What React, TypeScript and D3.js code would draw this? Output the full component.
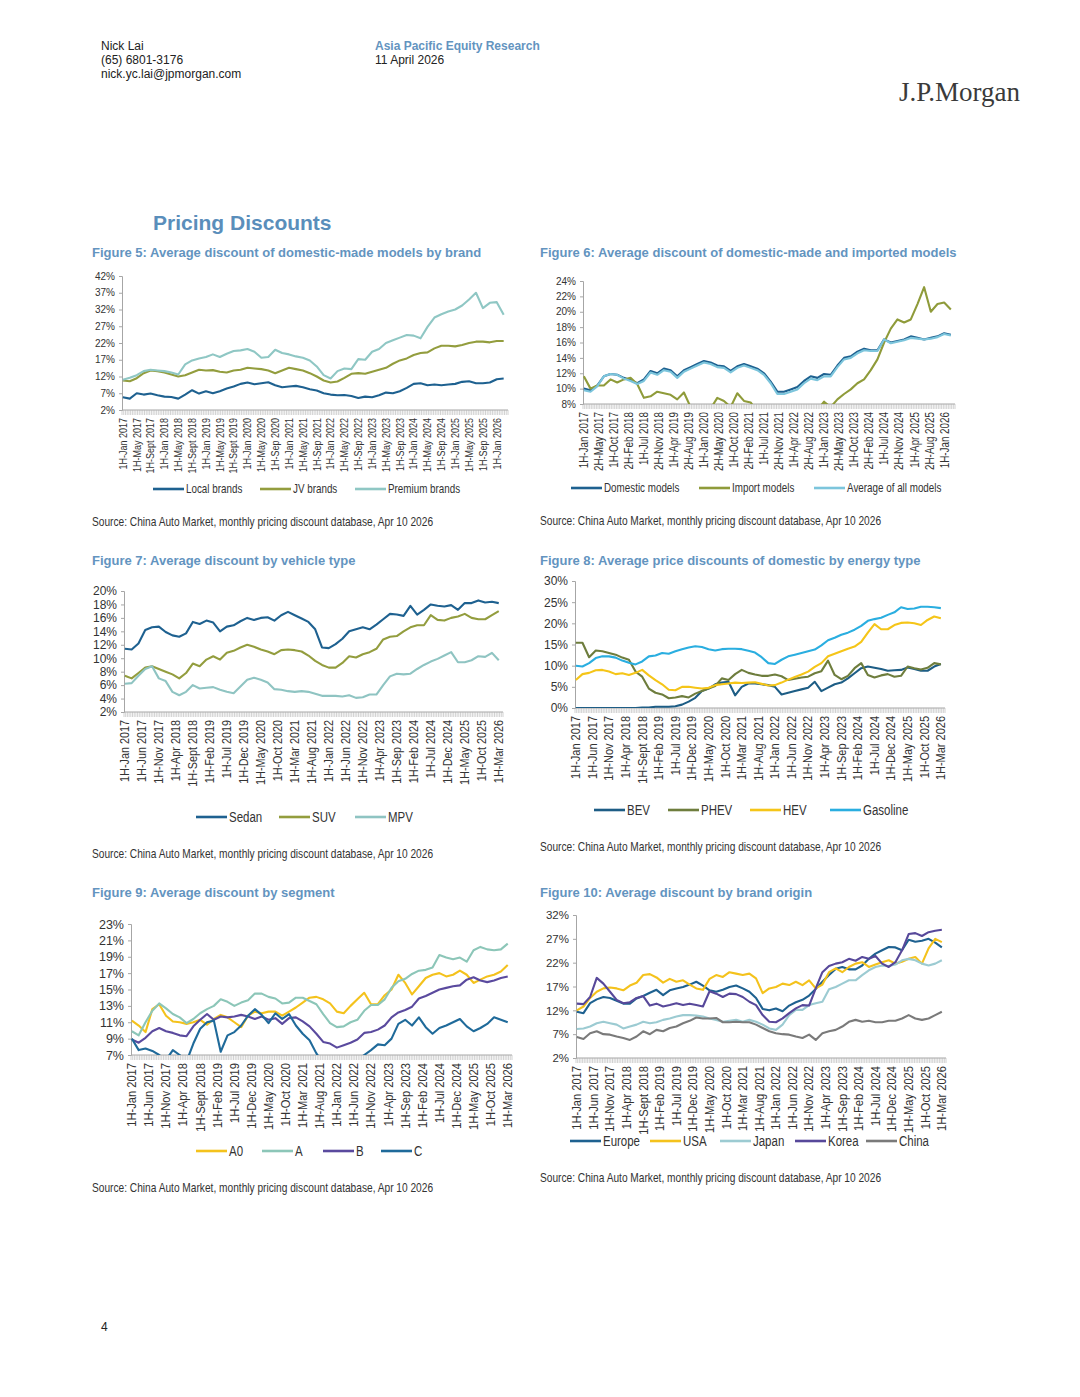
import { useEffect, useRef } from "react";
import * as d3 from "d3";

// Half-monthly category axis: 1H-Jan 2017 ... 1H-Apr 2026
const PERIOD_COUNT = 223;
// series values every second month (= 4 half-month periods)
const READ_STEP = 4;

const SANS = "'Liberation Sans',Arial,sans-serif";
// no narrow face installed, so Arial Narrow is faked by squeezing Liberation Sans
const NARROW_SCALE = 0.82;
const TITLE_BLUE = "#6394bf";

const fig5Labels = [
  "1H-Jan 2017", "1H-May 2017", "1H-Sept 2017", "1H-Jan 2018", "1H-May 2018", "1H-Sept 2018",
  "1H-Jan 2019", "1H-May 2019", "1H-Sept 2019", "1H-Jan 2020", "1H-May 2020", "1H-Sep 2020",
  "1H-Jan 2021", "1H-May 2021", "1H-Sep 2021", "1H-Jan 2022", "1H-May 2022", "1H-Sep 2022",
  "1H-Jan 2023", "1H-May 2023", "1H-Sep 2023", "1H-Jan 2024", "1H-May 2024", "1H-Sep 2024",
  "1H-Jan 2025", "1H-May 2025", "1H-Sep 2025", "1H-Jan 2026",
];
const fig6Labels = [
  "1H-Jan 2017", "2H-May 2017", "1H-Oct 2017", "2H-Feb 2018", "1H-Jul 2018", "2H-Nov 2018",
  "1H-Apr 2019", "2H-Aug 2019", "1H-Jan 2020", "2H-May 2020", "1H-Oct 2020", "2H-Feb 2021",
  "1H-Jul 2021", "2H-Nov 2021", "1H-Apr 2022", "2H-Aug 2022", "1H-Jan 2023", "2H-May 2023",
  "1H-Oct 2023", "2H-Feb 2024", "1H-Jul 2024", "2H-Nov 2024", "1H-Apr 2025", "2H-Aug 2025",
  "1H-Jan 2026",
];
const fig7Labels = [
  "1H-Jan 2017", "1H-Jun 2017", "1H-Nov 2017", "1H-Apr 2018", "1H-Sept 2018", "1H-Feb 2019",
  "1H-Jul 2019", "1H-Dec 2019", "1H-May 2020", "1H-Oct 2020", "1H-Mar 2021", "1H-Aug 2021",
  "1H-Jan 2022", "1H-Jun 2022", "1H-Nov 2022", "1H-Apr 2023", "1H-Sep 2023", "1H-Feb 2024",
  "1H-Jul 2024", "1H-Dec 2024", "1H-May 2025", "1H-Oct 2025", "1H-Mar 2026",
];

// Figure 5
const localBrands = [5.8, 5.4, 7.0, 6.6, 6.9, 6.4, 6.0, 5.9, 5.4, 6.6, 7.9, 6.9, 7.6, 7.0, 7.6, 8.4, 9.0, 9.8, 10.2, 9.7, 10.0, 10.3, 9.4, 8.8, 9.0, 9.2, 8.8, 8.2, 7.8, 7.0, 6.6, 6.4, 6.5, 6.2, 5.6, 6.0, 5.8, 6.4, 7.2, 7.0, 7.6, 8.6, 9.8, 10.0, 9.4, 9.6, 9.4, 9.6, 9.8, 10.4, 10.6, 10.0, 10.0, 10.2, 11.2, 11.4];
const jvBrands = [10.8, 10.6, 11.5, 13.0, 13.8, 13.6, 13.2, 12.6, 12.0, 12.4, 13.2, 14.0, 13.8, 13.9, 13.4, 13.2, 13.8, 14.0, 14.6, 14.4, 14.2, 13.8, 13.0, 13.8, 14.6, 14.2, 13.8, 13.0, 12.0, 10.8, 10.2, 10.5, 11.6, 12.8, 13.0, 12.8, 13.4, 14.0, 14.6, 15.8, 16.8, 17.4, 18.4, 19.0, 19.2, 20.4, 21.2, 21.2, 21.0, 21.4, 22.0, 22.4, 22.4, 22.2, 22.6, 22.6];
const premiumBrands = [11.0, 11.6, 12.4, 13.6, 14.0, 13.8, 13.6, 13.2, 12.6, 15.6, 16.8, 17.4, 17.8, 18.6, 17.8, 18.8, 19.6, 19.8, 20.2, 19.4, 17.6, 17.8, 20.0, 19.0, 18.6, 18.0, 17.6, 16.8, 15.0, 12.4, 11.4, 13.6, 14.4, 14.2, 17.2, 17.0, 19.4, 20.2, 22.0, 22.8, 23.6, 24.4, 24.2, 23.4, 26.8, 29.6, 30.6, 31.4, 32.0, 33.2, 35.0, 37.0, 32.4, 34.0, 34.2, 30.4];

// Figure 6
const domesticModels = [10.0, 9.8, 10.4, 11.6, 11.9, 11.8, 11.4, 11.1, 10.7, 11.2, 12.3, 12.0, 12.6, 12.4, 11.6, 12.4, 12.8, 13.2, 13.6, 13.4, 13.0, 12.9, 12.3, 12.9, 13.2, 12.9, 12.6, 12.0, 10.9, 9.6, 9.6, 9.9, 10.2, 11.0, 11.6, 11.4, 11.9, 11.8, 13.0, 14.0, 14.2, 14.8, 15.2, 15.0, 15.0, 16.4, 16.0, 16.2, 16.4, 16.8, 16.6, 16.4, 16.6, 16.8, 17.2, 17.0];
const importModels = [11.6, 10.0, 10.4, 10.4, 11.2, 10.8, 11.2, 11.4, 10.6, 8.8, 9.0, 9.6, 9.4, 9.2, 8.6, 9.5, 7.6, 7.2, 7.0, 7.4, 8.8, 8.4, 7.6, 9.4, 8.4, 8.2, 7.0, 6.5, 6.0, 6.0, 6.0, 6.0, 6.0, 6.0, 6.0, 7.2, 8.3, 7.6, 8.6, 9.3, 9.9, 10.7, 11.2, 12.4, 13.8, 16.0, 17.8, 19.0, 18.6, 19.0, 21.0, 23.2, 20.0, 21.0, 21.2, 20.3];
const allModels = [9.8, 9.6, 10.3, 11.6, 11.9, 11.8, 11.3, 11.0, 10.6, 11.0, 12.1, 11.8, 12.4, 12.2, 11.4, 12.2, 12.6, 13.0, 13.4, 13.2, 12.8, 12.7, 12.1, 12.7, 13.0, 12.7, 12.4, 11.8, 10.7, 9.3, 9.3, 9.6, 9.9, 10.7, 11.3, 11.1, 11.6, 11.6, 12.8, 13.8, 14.0, 14.6, 15.0, 14.9, 14.9, 16.4, 15.9, 16.1, 16.3, 16.6, 16.5, 16.4, 16.5, 16.7, 17.1, 16.9];

// Figure 7
const sedan = [11.4, 11.3, 12.2, 14.2, 14.6, 14.7, 13.9, 13.4, 13.2, 13.7, 15.4, 15.1, 15.6, 15.3, 14.0, 14.7, 14.9, 15.5, 16.0, 15.7, 16.0, 16.1, 15.6, 16.4, 16.9, 16.4, 15.9, 15.4, 14.3, 11.6, 11.5, 12.1, 12.9, 14.0, 14.3, 14.6, 14.3, 15.0, 15.8, 16.6, 16.5, 16.3, 17.8, 16.5, 17.2, 18.0, 17.8, 17.7, 17.9, 17.2, 18.2, 18.2, 18.6, 18.3, 18.4, 18.2];
const suv = [7.4, 7.0, 7.8, 8.6, 8.8, 8.4, 8.0, 7.6, 7.0, 7.8, 9.2, 8.8, 9.8, 10.3, 9.8, 10.8, 11.1, 11.6, 12.0, 11.7, 11.3, 11.0, 10.6, 11.2, 11.3, 11.2, 11.0, 10.4, 9.6, 9.0, 8.6, 8.6, 9.3, 10.3, 10.1, 10.6, 10.9, 11.4, 12.8, 13.2, 13.3, 14.0, 14.6, 14.9, 14.9, 16.4, 15.7, 15.6, 16.0, 16.2, 16.6, 16.0, 15.8, 15.8, 16.4, 17.0];
const mpv = [6.2, 6.3, 7.4, 8.4, 8.8, 7.0, 6.6, 5.0, 4.5, 5.0, 6.0, 5.5, 5.6, 5.7, 5.3, 5.0, 4.8, 5.8, 6.8, 7.1, 6.8, 6.4, 5.4, 5.3, 5.1, 5.0, 5.1, 5.0, 4.7, 4.4, 4.4, 4.4, 4.3, 4.5, 4.1, 4.2, 4.6, 4.6, 6.0, 7.3, 7.7, 7.6, 7.7, 8.4, 9.0, 9.5, 9.9, 10.4, 10.9, 9.4, 9.4, 9.7, 10.3, 10.2, 10.8, 9.7];

// Figure 8
const bev = [0, 0, 0, 0, 0, 0, 0, 0, 0, 0, 0.1, 0.1, 0.3, 0.3, 0.3, 0.4, 0.8, 1.5, 2.4, 4.0, 4.6, 5.6, 6.0, 6.2, 3.0, 5.0, 5.8, 5.8, 5.6, 5.4, 5.0, 3.2, 3.6, 4.0, 4.4, 4.8, 6.2, 4.0, 4.8, 5.6, 6.0, 7.0, 8.2, 9.4, 9.8, 9.5, 9.2, 8.8, 8.9, 9.0, 9.6, 9.2, 8.8, 8.8, 9.8, 10.4];
const phev = [15.4, 15.4, 12.0, 13.6, 13.4, 13.0, 12.6, 11.9, 11.4, 8.6, 7.4, 4.6, 3.6, 3.2, 2.3, 2.5, 2.8, 2.5, 3.4, 4.0, 4.6, 5.2, 7.0, 6.6, 8.0, 9.0, 8.3, 7.9, 7.6, 7.6, 7.9, 7.5, 6.6, 6.9, 7.2, 7.4, 8.2, 8.7, 11.2, 7.8, 6.8, 7.6, 9.4, 10.6, 7.8, 7.2, 7.7, 8.0, 7.4, 7.6, 9.8, 9.4, 9.1, 9.5, 10.6, 10.3];
const hev = [6.6, 8.0, 8.3, 8.9, 9.0, 8.6, 8.0, 8.2, 7.8, 8.3, 9.0, 7.7, 6.6, 5.6, 4.3, 4.2, 5.0, 5.0, 4.8, 4.6, 4.8, 5.4, 5.6, 5.8, 6.0, 5.9, 6.0, 6.1, 5.7, 5.3, 5.4, 6.0, 6.7, 7.3, 7.9, 8.6, 9.7, 10.6, 12.2, 12.8, 13.4, 14.0, 14.5, 15.6, 17.8, 19.8, 18.6, 18.6, 19.6, 20.1, 20.2, 20.0, 19.6, 20.8, 21.6, 21.2];
const gasoline = [10.0, 9.8, 10.6, 11.8, 12.2, 12.2, 11.9, 11.2, 10.7, 10.3, 11.0, 12.2, 12.4, 13.0, 12.8, 13.4, 13.9, 14.3, 14.6, 14.4, 13.9, 13.6, 13.9, 14.0, 14.0, 13.9, 13.5, 13.1, 12.0, 10.6, 10.4, 11.4, 12.2, 12.6, 13.0, 13.4, 13.8, 14.8, 16.0, 16.6, 17.3, 17.8, 18.5, 19.4, 20.6, 21.0, 21.3, 22.0, 22.6, 23.8, 23.4, 23.5, 23.9, 23.9, 23.8, 23.6];

// Figure 9
const segA0 = [11.2, 10.6, 9.8, 12.6, 13.2, 11.8, 11.1, 11.0, 10.8, 11.0, 11.3, 10.7, 11.4, 11.9, 11.6, 11.0, 10.4, 11.8, 12.3, 12.1, 12.3, 12.3, 11.8, 12.3, 12.8, 13.4, 14.0, 14.1, 13.8, 13.3, 12.3, 12.1, 13.0, 13.8, 14.6, 13.2, 13.2, 14.3, 15.0, 16.8, 15.8, 14.4, 15.4, 16.4, 16.8, 17.0, 16.6, 16.8, 17.3, 16.8, 15.8, 16.2, 16.6, 16.8, 17.2, 18.0];
const segA = [9.9, 9.4, 11.0, 12.4, 13.3, 12.7, 12.0, 11.6, 10.9, 11.4, 12.1, 12.6, 13.0, 13.8, 13.5, 13.0, 13.4, 13.7, 14.5, 14.5, 14.1, 13.9, 13.3, 13.4, 14.0, 14.0, 13.6, 13.2, 12.0, 10.9, 10.4, 10.5, 11.0, 11.3, 12.4, 13.1, 13.1, 13.8, 15.2, 16.0, 16.3, 16.9, 17.3, 17.4, 17.7, 19.2, 18.9, 18.7, 18.9, 18.4, 19.8, 20.2, 19.9, 19.8, 19.9, 20.6];
const segB = [8.9, 8.5, 9.1, 9.9, 10.3, 9.9, 9.7, 9.4, 9.3, 10.5, 11.3, 12.0, 11.3, 11.7, 11.6, 11.7, 11.9, 11.7, 11.4, 11.7, 11.3, 11.5, 10.8, 11.5, 11.6, 11.1, 10.5, 9.6, 8.6, 8.4, 7.9, 8.2, 8.5, 8.9, 9.7, 9.8, 10.1, 10.6, 11.6, 12.2, 12.5, 12.9, 13.9, 14.2, 14.6, 15.0, 15.2, 15.4, 15.5, 16.2, 16.5, 16.1, 15.9, 16.1, 16.4, 16.6];
const segC = [9.0, 7.6, 7.8, 7.5, 7.0, 6.4, 7.6, 7.0, 6.2, 8.4, 10.2, 11.0, 11.2, 7.4, 9.4, 9.8, 10.6, 11.8, 12.6, 11.9, 10.9, 12.1, 11.4, 12.0, 10.6, 9.6, 8.8, 7.2, 6.0, 5.5, 5.2, 5.4, 5.8, 6.4, 7.0, 7.6, 8.3, 8.2, 9.0, 10.8, 11.3, 10.6, 11.6, 10.4, 9.6, 10.3, 10.6, 11.0, 11.4, 10.5, 9.9, 10.3, 10.8, 11.6, 11.3, 11.0];

// Figure 10
const europe = [11.7, 11.4, 13.5, 14.3, 14.8, 14.6, 14.0, 13.4, 13.4, 14.5, 15.0, 15.7, 16.3, 15.2, 16.2, 16.6, 16.9, 17.4, 18.0, 17.2, 16.2, 15.9, 16.3, 16.9, 17.2, 16.6, 15.9, 14.6, 12.3, 12.0, 12.4, 11.8, 13.0, 13.7, 14.2, 15.1, 16.5, 18.0, 19.4, 20.7, 21.1, 20.6, 20.6, 21.4, 22.8, 23.9, 24.6, 25.3, 25.2, 24.6, 26.8, 26.4, 26.6, 27.0, 26.2, 25.2];
const usa = [12.0, 12.8, 14.6, 15.9, 16.6, 16.8, 16.6, 16.2, 17.2, 17.8, 19.4, 19.6, 18.9, 17.8, 18.6, 18.0, 18.3, 17.4, 16.6, 16.3, 18.6, 19.4, 19.0, 20.0, 19.7, 19.4, 19.7, 18.7, 15.6, 16.6, 16.9, 17.6, 17.3, 18.0, 17.3, 18.3, 16.6, 17.4, 20.0, 20.8, 20.0, 21.1, 21.8, 22.1, 21.1, 21.6, 22.1, 22.5, 21.8, 22.2, 22.8, 23.2, 21.8, 25.0, 27.0, 26.3];
const japan = [8.1, 8.2, 8.6, 9.3, 9.6, 9.3, 9.0, 8.2, 8.6, 9.0, 9.6, 9.3, 9.5, 10.0, 10.3, 10.7, 11.0, 11.0, 10.9, 10.7, 10.3, 10.0, 9.6, 9.8, 10.0, 9.6, 10.0, 9.6, 9.0, 8.2, 7.9, 9.0, 11.0, 12.1, 12.1, 13.1, 13.5, 13.8, 16.4, 16.9, 17.6, 18.3, 18.3, 19.4, 20.4, 21.1, 21.4, 21.3, 21.6, 22.5, 22.8, 22.5, 21.8, 21.4, 21.8, 22.5];
const korea = [13.4, 13.3, 14.8, 18.8, 17.6, 15.9, 14.2, 13.5, 13.7, 14.6, 15.0, 13.0, 13.4, 12.8, 13.1, 13.5, 13.1, 13.4, 13.1, 12.8, 16.0, 15.5, 14.8, 15.5, 15.4, 14.8, 13.8, 13.1, 11.0, 9.6, 9.5, 10.3, 11.4, 12.4, 13.1, 13.0, 16.6, 20.0, 21.3, 21.8, 22.1, 22.8, 22.4, 23.2, 22.8, 23.4, 21.8, 21.1, 22.1, 24.6, 28.0, 28.2, 27.6, 28.4, 28.7, 28.9];
const china = [6.4, 6.0, 7.2, 7.6, 7.0, 6.9, 6.5, 6.2, 5.8, 6.5, 7.6, 7.0, 7.9, 7.6, 8.3, 8.6, 9.3, 9.8, 10.5, 10.3, 10.3, 10.4, 9.5, 9.5, 9.6, 9.5, 9.5, 9.0, 8.3, 7.6, 7.2, 7.0, 6.9, 6.5, 6.2, 6.9, 5.8, 7.2, 7.6, 7.9, 8.6, 9.6, 10.0, 9.6, 9.8, 9.5, 9.5, 9.8, 9.8, 10.3, 11.0, 10.3, 10.0, 10.3, 11.0, 11.7];

interface Series { name: string; color: string; values: number[]; legendX: number }

interface ChartConfig {
  id: string;
  title: string;
  titleX: number;
  titleY: number;
  left: number;
  right: number;
  top: number;
  bottom: number;
  yMin: number;
  yMax: number;
  yStep: number;
  yFont: number;
  labels: string[];
  labelStep: number;
  xFont: number;
  legendY: number;
  legendFont: number;
  sourceY: number;
  series: Series[];
}

const SOURCE = "Source: China Auto Market, monthly pricing discount database, Apr 10 2026";

const charts: ChartConfig[] = [
  {
    id: "f5", title: "Figure 5: Average discount of domestic-made models by brand", titleX: 92, titleY: 257,
    left: 122, right: 508, top: 276, bottom: 410, yMin: 2, yMax: 42, yStep: 5, yFont: 10,
    labels: fig5Labels, labelStep: 8, xFont: 11, legendY: 489, legendFont: 12, sourceY: 526,
    series: [
      { name: "Local brands", color: "#1e6190", values: localBrands, legendX: 153 },
      { name: "JV brands", color: "#939d3e", values: jvBrands, legendX: 260 },
      { name: "Premium brands", color: "#8fc7c4", values: premiumBrands, legendX: 355 },
    ],
  },
  {
    id: "f6", title: "Figure 6: Average discount of domestic-made and imported models", titleX: 540, titleY: 257,
    left: 583, right: 955, top: 281, bottom: 404, yMin: 8, yMax: 24, yStep: 2, yFont: 10,
    labels: fig6Labels, labelStep: 9, xFont: 12, legendY: 488, legendFont: 12, sourceY: 525,
    series: [
      { name: "Domestic models", color: "#1e6190", values: domesticModels, legendX: 571 },
      { name: "Import models", color: "#8f9b3a", values: importModels, legendX: 699 },
      { name: "Average of all models", color: "#7cc5dc", values: allModels, legendX: 814 },
    ],
  },
  {
    id: "f7", title: "Figure 7: Average discount by vehicle type", titleX: 92, titleY: 565,
    left: 124, right: 503, top: 591, bottom: 712, yMin: 2, yMax: 20, yStep: 2, yFont: 12,
    labels: fig7Labels, labelStep: 10, xFont: 13.2, legendY: 817, legendFont: 14, sourceY: 858,
    series: [
      { name: "Sedan", color: "#1e6190", values: sedan, legendX: 196 },
      { name: "SUV", color: "#939d3e", values: suv, legendX: 279 },
      { name: "MPV", color: "#8fc4c2", values: mpv, legendX: 355 },
    ],
  },
  {
    id: "f8", title: "Figure 8: Average price discounts of domestic by energy type", titleX: 540, titleY: 565,
    left: 575, right: 945, top: 581, bottom: 708, yMin: 0, yMax: 30, yStep: 5, yFont: 12,
    labels: fig7Labels, labelStep: 10, xFont: 13.4, legendY: 810, legendFont: 14, sourceY: 851,
    series: [
      { name: "BEV", color: "#1d5d85", values: bev, legendX: 594 },
      { name: "PHEV", color: "#6e7d3d", values: phev, legendX: 668 },
      { name: "HEV", color: "#f5c518", values: hev, legendX: 750 },
      { name: "Gasoline", color: "#2aaee0", values: gasoline, legendX: 830 },
    ],
  },
  {
    id: "f9", title: "Figure 9: Average discount by segment", titleX: 92, titleY: 897,
    left: 131, right: 512, top: 924, bottom: 1055, yMin: 7, yMax: 23, yStep: 2, yFont: 12.5,
    labels: fig7Labels, labelStep: 10, xFont: 13.6, legendY: 1151, legendFont: 14, sourceY: 1192,
    series: [
      { name: "A0", color: "#f4c21c", values: segA0, legendX: 196 },
      { name: "A", color: "#8cc6b8", values: segA, legendX: 262 },
      { name: "B", color: "#5a4a9e", values: segB, legendX: 323 },
      { name: "C", color: "#1f6a9a", values: segC, legendX: 381 },
    ],
  },
  {
    id: "f10", title: "Figure 10: Average discount by brand origin", titleX: 540, titleY: 897,
    left: 576, right: 946, top: 915, bottom: 1058, yMin: 2, yMax: 32, yStep: 5, yFont: 11.5,
    labels: fig7Labels, labelStep: 10, xFont: 13.6, legendY: 1141, legendFont: 14, sourceY: 1182,
    series: [
      { name: "Europe", color: "#1e6190", values: europe, legendX: 570 },
      { name: "USA", color: "#f4c21c", values: usa, legendX: 650 },
      { name: "Japan", color: "#9ccbd2", values: japan, legendX: 720 },
      { name: "Korea", color: "#57489a", values: korea, legendX: 795 },
      { name: "China", color: "#7a7a7a", values: china, legendX: 866 },
    ],
  },
];

function narrow(x: number, y: number, rotate = 0) {
  return `translate(${x},${y})${rotate ? ` rotate(${rotate})` : ""} scale(${NARROW_SCALE},1)`;
}

function LineChart({ cfg }: { cfg: ChartConfig }) {
  const ref = useRef<SVGGElement | null>(null);

  useEffect(() => {
    if (!ref.current) return;
    const g = d3.select(ref.current);
    g.selectAll("*").remove();

    const x = d3.scaleLinear().domain([-0.5, PERIOD_COUNT - 0.5]).range([cfg.left, cfg.right]);
    const y = d3.scaleLinear().domain([cfg.yMin, cfg.yMax]).range([cfg.bottom, cfg.top]);

    g.append("text")
      .attr("x", cfg.titleX)
      .attr("y", cfg.titleY)
      .attr("font-family", SANS)
      .attr("font-weight", "bold")
      .attr("font-size", 13)
      .attr("fill", TITLE_BLUE)
      .text(cfg.title);

    // y axis
    const yAxis = g.append("g")
      .attr("transform", `translate(${cfg.left},0)`)
      .call(
        d3.axisLeft(y)
          .tickValues(d3.range(cfg.yMin, cfg.yMax + 0.001, cfg.yStep))
          .tickSize(3)
          .tickPadding(4)
          .tickFormat((d) => `${d}%`)
      );
    yAxis.selectAll("text")
      .attr("font-family", SANS)
      .attr("font-size", cfg.yFont)
      .attr("fill", "#333");
    yAxis.selectAll(".domain").attr("stroke", "#a6a6a6");
    yAxis.selectAll(".tick line").attr("stroke", "#a6a6a6");

    // x axis: one tick between every half-month category
    const xAxis = g.append("g").attr("transform", `translate(0,${cfg.bottom})`);
    xAxis.append("line")
      .attr("x1", cfg.left).attr("x2", cfg.right)
      .attr("stroke", "#a6a6a6");
    xAxis.selectAll("line.tick")
      .data(d3.range(PERIOD_COUNT + 1))
      .enter()
      .append("line")
      .attr("class", "tick")
      .attr("x1", (i) => x(i - 0.5))
      .attr("x2", (i) => x(i - 0.5))
      .attr("y1", 0)
      .attr("y2", 5)
      .attr("stroke", "#b4b4b4")
      .attr("stroke-width", 0.6);
    xAxis.selectAll("text")
      .data(cfg.labels)
      .enter()
      .append("text")
      .attr("transform", (_, k) => narrow(x(k * cfg.labelStep), 8, -90))
      .attr("text-anchor", "end")
      .attr("dominant-baseline", "central")
      .attr("font-family", SANS)
      .attr("font-size", cfg.xFont)
      .attr("fill", "#333")
      .text((d) => d);

    // series, clipped to the plot area
    const clipId = `clip-${cfg.id}`;
    g.append("clipPath")
      .attr("id", clipId)
      .append("rect")
      .attr("x", cfg.left)
      .attr("y", cfg.top - 10)
      .attr("width", cfg.right - cfg.left)
      .attr("height", cfg.bottom - cfg.top + 10);

    const line = d3.line<number>()
      .x((_, i) => x(i * READ_STEP))
      .y((v) => y(v));

    const plot = g.append("g").attr("clip-path", `url(#${clipId})`);
    plot.selectAll("path")
      .data(cfg.series)
      .enter()
      .append("path")
      .attr("fill", "none")
      .attr("stroke", (s) => s.color)
      .attr("stroke-width", 2.1)
      .attr("stroke-linejoin", "round")
      .attr("d", (s) => line(s.values));

    // legend
    const legend = g.append("g").attr("transform", `translate(0,${cfg.legendY})`);
    const item = legend.selectAll("g")
      .data(cfg.series)
      .enter()
      .append("g")
      .attr("transform", (s) => `translate(${s.legendX},0)`);
    item.append("line")
      .attr("x1", 0).attr("x2", 31)
      .attr("stroke", (s) => s.color)
      .attr("stroke-width", 2.6);
    item.append("text")
      .attr("transform", narrow(33, 0))
      .attr("dominant-baseline", "central")
      .attr("font-family", SANS)
      .attr("font-size", cfg.legendFont)
      .attr("fill", "#333")
      .text((s) => s.name);

    g.append("text")
      .attr("transform", narrow(cfg.titleX, cfg.sourceY))
      .attr("font-family", SANS)
      .attr("font-size", 12.4)
      .attr("fill", "#333")
      .text(SOURCE);
  }, [cfg]);

  return <g ref={ref} />;
}

export default function App() {
  return (
    <svg
      width={1080}
      height={1397}
      style={{ position: "absolute", left: 0, top: 0, background: "#fff" }}
    >
      <rect width={1080} height={1397} fill="#fff" />
      <g fontFamily={SANS} fontSize={12} fill="#222">
        <text x={101} y={50}>Nick Lai</text>
        <text x={101} y={64}>(65) 6801-3176</text>
        <text x={101} y={78}>nick.yc.lai@jpmorgan.com</text>
        <text x={375} y={50} fontWeight="bold" fill={TITLE_BLUE}>Asia Pacific Equity Research</text>
        <text x={375} y={64}>11 April 2026</text>
        <text x={101} y={1331}>4</text>
      </g>
      <text
        x={1020}
        y={101}
        textAnchor="end"
        fontFamily="'Liberation Serif','DejaVu Serif',serif"
        fontSize={27}
        fill="#3a3a3a"
      >
        J.P.Morgan
      </text>
      <text x={153} y={230} fontFamily={SANS} fontWeight="bold" fontSize={21} fill="#5a8ebb">
        Pricing Discounts
      </text>
      {charts.map((c) => (
        <LineChart key={c.id} cfg={c} />
      ))}
    </svg>
  );
}
